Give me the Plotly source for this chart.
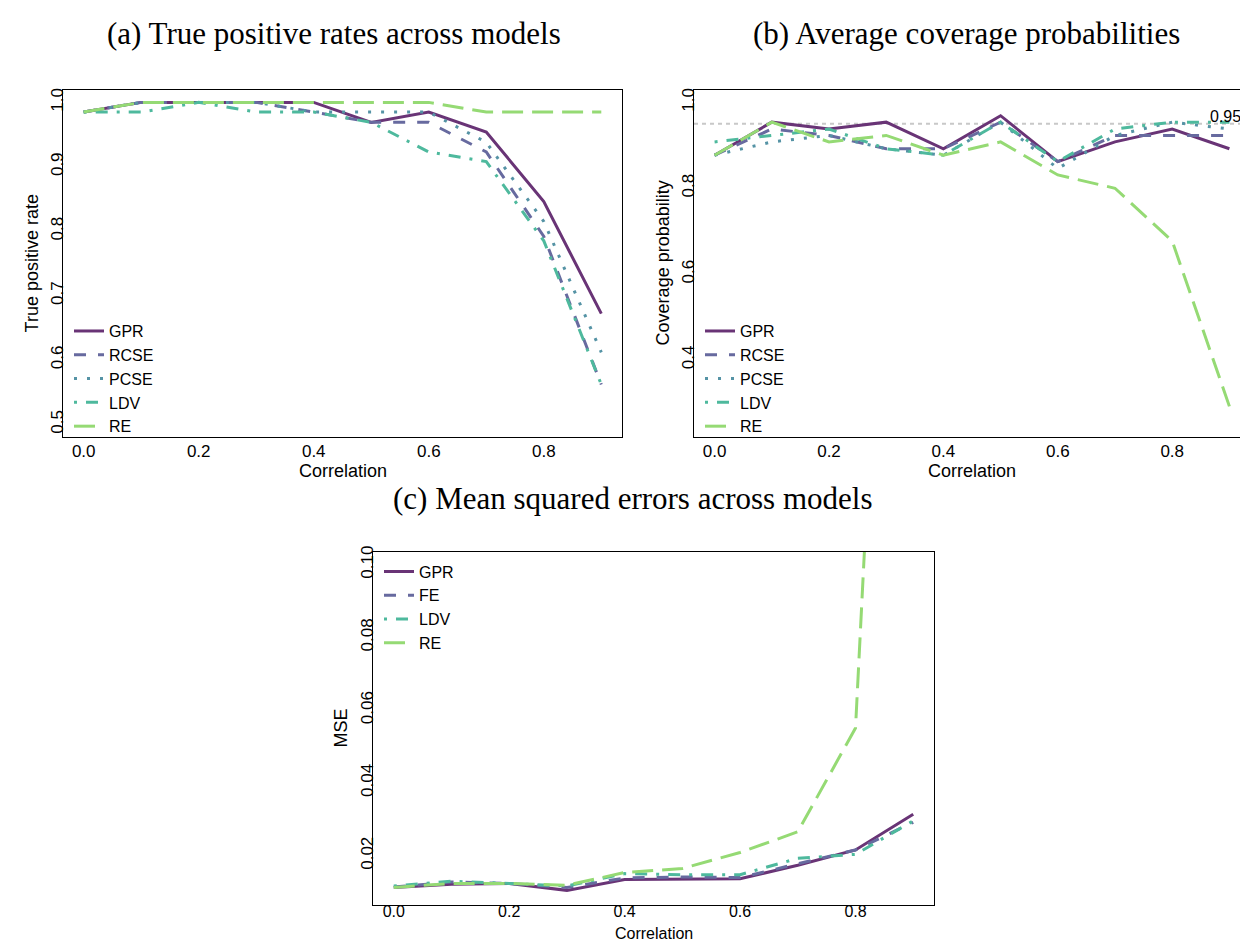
import plotly.graph_objects as go

W, H = 1248, 941

corr = [0.0, 0.1, 0.2, 0.3, 0.4, 0.5, 0.6, 0.7, 0.8, 0.9]

# (a) True positive rates
tpr_gpr = [0.985, 1.0, 1.0, 1.0, 1.0, 0.969, 0.985, 0.954, 0.846, 0.672]
tpr_rcse = [0.985, 1.0, 1.0, 1.0, 0.985, 0.969, 0.969, 0.923, 0.792, 0.562]
tpr_pcse = [0.985, 1.0, 1.0, 1.0, 0.985, 0.985, 0.985, 0.938, 0.815, 0.612]
tpr_ldv = [0.985, 0.985, 1.0, 0.985, 0.985, 0.969, 0.923, 0.908, 0.785, 0.562]
tpr_re = [0.985, 1.0, 1.0, 1.0, 1.0, 1.0, 1.0, 0.985, 0.985, 0.985]

# (b) Coverage probabilities
cov_gpr = [0.877, 0.954, 0.938, 0.954, 0.892, 0.969, 0.862, 0.908, 0.938, 0.892]
cov_rcse = [0.877, 0.938, 0.923, 0.892, 0.892, 0.954, 0.862, 0.923, 0.923, 0.923]
cov_pcse = [0.877, 0.908, 0.923, 0.892, 0.877, 0.954, 0.846, 0.923, 0.954, 0.938]
cov_ldv = [0.908, 0.923, 0.938, 0.892, 0.877, 0.954, 0.862, 0.938, 0.954, 0.954]
cov_re = [0.877, 0.954, 0.908, 0.923, 0.877, 0.908, 0.831, 0.800, 0.677, 0.292]
nominal = 0.95

# (c) Mean squared errors
mse_gpr = [0.0113, 0.0122, 0.0124, 0.0105, 0.0135, 0.0135, 0.0137, 0.0174, 0.0216, 0.0314]
mse_fe = [0.0114, 0.0128, 0.0124, 0.0113, 0.0139, 0.0142, 0.0140, 0.0179, 0.0216, 0.0292]
mse_ldv = [0.0117, 0.0130, 0.0124, 0.0117, 0.0151, 0.0148, 0.0148, 0.0193, 0.0204, 0.0296]
mse_re = [0.0113, 0.0124, 0.0124, 0.0119, 0.0154, 0.0165, 0.0209, 0.0266, 0.0551, 0.37]

x_ticks = [0.0, 0.2, 0.4, 0.6, 0.8]

C_GPR = "#693476"
C_RCSE = "#676A9F"
C_PCSE = "#5593A5"
C_LDV = "#4EB99D"
C_RE = "#95DA74"

D_SOLID = "solid"
D_DASH = "12px,12px"
D_DOT = "3px,10px"
D_DOTDASH = "3px,9px,12px,9px"
D_LONG = "21px,9px"

LW = 3
SANS = "Liberation Sans"
SERIF = "Liberation Serif"

fig = go.Figure()

def add(x, y, name, color, dash, xa, ya, leg):
    fig.add_trace(go.Scatter(
        x=x, y=y, name=name, mode="lines",
        line=dict(color=color, width=LW, dash=dash),
        xaxis=xa, yaxis=ya, legend=leg, showlegend=True))

add(corr, tpr_gpr, "GPR", C_GPR, D_SOLID, "x", "y", "legend")
add(corr, tpr_rcse, "RCSE", C_RCSE, D_DASH, "x", "y", "legend")
add(corr, tpr_pcse, "PCSE", C_PCSE, D_DOT, "x", "y", "legend")
add(corr, tpr_ldv, "LDV", C_LDV, D_DOTDASH, "x", "y", "legend")
add(corr, tpr_re, "RE", C_RE, D_LONG, "x", "y", "legend")

add(corr, cov_gpr, "GPR", C_GPR, D_SOLID, "x2", "y2", "legend2")
add(corr, cov_rcse, "RCSE", C_RCSE, D_DASH, "x2", "y2", "legend2")
add(corr, cov_pcse, "PCSE", C_PCSE, D_DOT, "x2", "y2", "legend2")
add(corr, cov_ldv, "LDV", C_LDV, D_DOTDASH, "x2", "y2", "legend2")
add(corr, cov_re, "RE", C_RE, D_LONG, "x2", "y2", "legend2")

add(corr, mse_gpr, "GPR", C_GPR, D_SOLID, "x3", "y3", "legend3")
add(corr, mse_fe, "FE", C_RCSE, D_DASH, "x3", "y3", "legend3")
add(corr, mse_ldv, "LDV", C_LDV, D_DOTDASH, "x3", "y3", "legend3")
add(corr, mse_re, "RE", C_RE, D_LONG, "x3", "y3", "legend3")

def px_x(p):
    return p / W

def px_y(p):
    return 1 - p / H

# panel boxes in pixels: left, right, top, bottom
A = (55, 614, 76, 426)
B = (686, 1242, 76, 426)
Cc = (365, 926, 541, 897)

xr = [-0.036, 0.936]

def xaxis(box, anchor, standoff=-2, size=17):
    return dict(domain=[px_x(box[0]), px_x(box[1])], anchor=anchor, range=xr,
                tickvals=x_ticks, ticktext=[f"{v:.1f}" for v in x_ticks],
                showgrid=False, zeroline=False, showline=True, mirror=True,
                linecolor="black", linewidth=1.3, ticks="", ticklen=0,
                ticklabelstandoff=standoff,
                tickfont=dict(family=SANS, size=size, color="black"))

def yaxis(box, anchor, rng, vals, fmt):
    return dict(domain=[px_y(box[3]), px_y(box[2])], anchor=anchor, range=rng,
                tickvals=vals, ticktext=[fmt.format(v) for v in vals], tickangle=-90,
                showgrid=False, zeroline=False, showline=True, mirror=True,
                linecolor="black", linewidth=1.3, ticks="", ticklen=0,
                ticklabelstandoff=-8,
                tickfont=dict(family=SANS, size=17, color="black"))

leg_font = dict(family=SANS, size=16, color="black")

def legend(box, top_px):
    return dict(x=px_x(box[0] + 6), y=px_y(top_px), xanchor="left", yanchor="top",
                bgcolor="rgba(0,0,0,0)", borderwidth=0, font=leg_font,
                tracegroupgap=0, itemwidth=30)

fig.update_layout(
    width=W, height=H, margin=dict(l=0, r=0, t=0, b=0),
    paper_bgcolor="white", plot_bgcolor="white",
    xaxis=xaxis(A, "y"),
    yaxis=yaxis(A, "x", [0.48, 1.02], [0.5, 0.6, 0.7, 0.8, 0.9, 1.0], "{:.1f}"),
    xaxis2=xaxis(B, "y2"),
    yaxis2=yaxis(B, "x2", [0.22, 1.03], [0.4, 0.6, 0.8, 1.0], "{:.1f}"),
    xaxis3=xaxis(Cc, "y3", standoff=-9, size=16),
    yaxis3=yaxis(Cc, "x3", [0.0064, 0.1036], [0.02, 0.04, 0.06, 0.08, 0.10], "{:.2f}"),
    legend=legend(A, 302),
    legend2=legend(B, 302),
    legend3=legend(Cc, 544),
    showlegend=True,
)

# nominal coverage reference line
fig.add_shape(type="line", xref="x2 domain", yref="y2", x0=0, x1=1, y0=nominal, y1=nominal,
              line=dict(color="#C8C8C8", width=2, dash="4px,4px"), layer="below")
fig.add_annotation(x=0.9, y=nominal, xref="x2", yref="y2", text="0.95", showarrow=False,
                   xanchor="center", yanchor="bottom", yshift=-3, xshift=-4,
                   font=dict(family=SANS, size=16, color="black"))

def ann(x, y, text, size, family, angle=0):
    fig.add_annotation(x=px_x(x), y=px_y(y), xref="paper", yref="paper", text=text,
                       showarrow=False, xanchor="center", yanchor="middle", textangle=angle,
                       font=dict(family=family, size=size, color="black"))

# panel titles
ann(326, 20, "(a) True positive rates across models", 31, SERIF)
ann(958, 20, "(b) Average coverage probabilities", 31, SERIF)
ann(624, 488, "(c) Mean squared errors across models", 31, SERIF)

# axis titles
ann((A[0] + A[1]) / 2, 460, "Correlation", 18, SANS)
ann((B[0] + B[1]) / 2, 460, "Correlation", 18, SANS)
ann((Cc[0] + Cc[1]) / 2, 925, "Correlation", 16, SANS)
ann(A[0] - 31, (A[2] + A[3]) / 2, "True positive rate", 18, SANS, -90)
ann(B[0] - 31, (B[2] + B[3]) / 2, "Coverage probability", 18, SANS, -90)
ann(Cc[0] - 32, (Cc[2] + Cc[3]) / 2, "MSE", 18, SANS, -90)

fig.write_html("out.html")
